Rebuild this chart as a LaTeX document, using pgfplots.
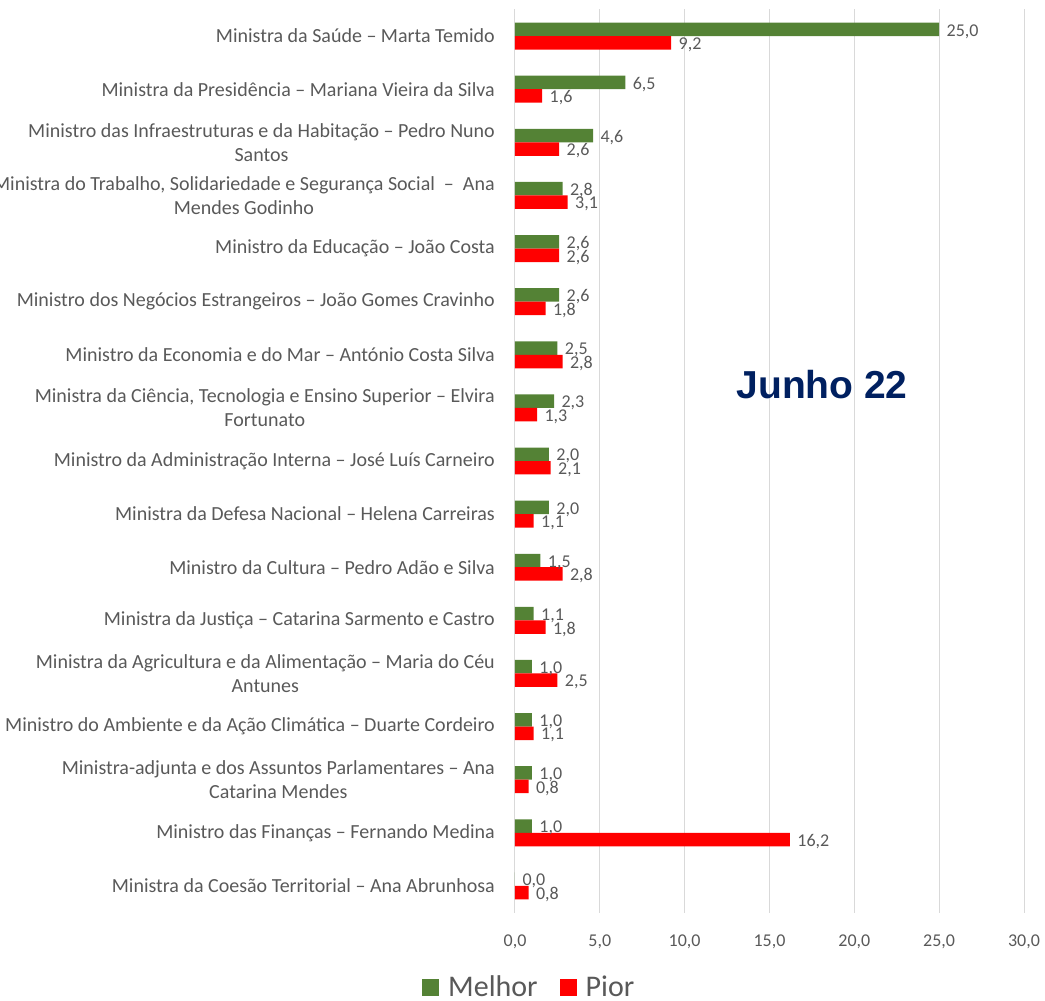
\documentclass[border=0pt]{standalone}
\usepackage{pgfplots}
\pgfplotsset{compat=1.18}
\usepackage{fontspec}
\setmainfont{Carlito}
\newfontfamily\arialfont{Liberation Sans}
\definecolor{mgreen}{HTML}{548235}
\definecolor{mred}{HTML}{FF0000}
\definecolor{txt}{HTML}{595959}
\definecolor{gridgray}{HTML}{D9D9D9}
\definecolor{navy}{HTML}{002060}
\pgfplotstableread{
idx melhor pior
0 25.0 9.2
1 6.5 1.6
2 4.6 2.6
3 2.8 3.1
4 2.6 2.6
5 2.6 1.8
6 2.5 2.8
7 2.3 1.3
8 2.0 2.1
9 2.0 1.1
10 1.5 2.8
11 1.1 1.8
12 1.0 2.5
13 1.0 1.1
14 1.0 0.8
15 1.0 16.2
16 0.0 0.8
}\datatable
\begin{document}
\begin{tikzpicture}
\begin{axis}[
  scale only axis,
  width=509pt, height=903pt,
  xmin=0, xmax=30, ymin=-0.5, ymax=16.5,
  y dir=reverse,
  xbar, bar width=0.254,
  axis line style={draw=none},
  xmajorgrids=true, ymajorgrids=false,
  grid style={draw=gridgray, line width=1pt},
  major tick length=0pt,
  xtick style={draw=none}, ytick style={draw=none},
  xtick={0,5,...,30},
  ytick={0,...,16},
  /pgf/number format/.cd, use comma, fixed, fixed zerofill, precision=1, assume math mode=true,
  /pgfplots/.cd,
  xticklabel style={font=\fontsize{18}{20}\selectfont, text=txt, yshift=-19pt},
  yticklabel style={font=\fontsize{20}{24}\selectfont, text=txt, align=center, inner sep=0pt, xshift=-20pt},
  yticklabels={
    {Ministra da Saúde – Marta Temido},
    {Ministra da Presidência – Mariana Vieira da Silva},
    {Ministro das Infraestruturas e da Habitação – Pedro Nuno\\Santos},
    {Ministra do Trabalho, Solidariedade e Segurança Social \ – \ Ana\\Mendes Godinho},
    {Ministro da Educação – João Costa},
    {Ministro dos Negócios Estrangeiros – João Gomes Cravinho},
    {Ministro da Economia e do Mar – António Costa Silva},
    {Ministra da Ciência, Tecnologia e Ensino Superior – Elvira\\Fortunato},
    {Ministro da Administração Interna – José Luís Carneiro},
    {Ministra da Defesa Nacional – Helena Carreiras},
    {Ministro da Cultura – Pedro Adão e Silva},
    {Ministra da Justiça – Catarina Sarmento e Castro},
    {Ministra da Agricultura e da Alimentação – Maria do Céu\\Antunes},
    {Ministro do Ambiente e da Ação Climática – Duarte Cordeiro},
    {Ministra-adjunta e dos Assuntos Parlamentares – Ana\\Catarina Mendes},
    {Ministro das Finanças – Fernando Medina},
    {Ministra da Coesão Territorial – Ana Abrunhosa}
  },
  nodes near coords,
  point meta=x,
  every node near coord/.append style={anchor=west, font=\fontsize{18}{20}\selectfont, text=txt, xshift=4pt, yshift=-2pt},
  legend columns=2,
  legend style={draw=none, at={(0.028,-0.082)}, anchor=center, font=\fontsize{30}{32}\selectfont, text=txt,
    /tikz/every even column/.append style={column sep=20pt},
    /tikz/every odd column/.append style={column sep=7pt}},
  legend image code/.code={\fill[#1] (0pt,-9pt) rectangle (17pt,8pt);},
]
\addplot[fill=mgreen, draw=none, bar shift=-0.127] table[x=melhor, y=idx] {\datatable};
\addplot[fill=mred, draw=none, bar shift=0.127] table[x=pior, y=idx] {\datatable};
\legend{Melhor, Pior}
\node[font=\arialfont\bfseries\fontsize{39}{40}\selectfont, text=navy] at (axis cs:18.1,6.57) {Junho 22};
\coordinate (A) at (axis cs:0,16.5);
\coordinate (B) at (axis cs:30,-0.5);
\end{axis}
\pgfresetboundingbox
\path[use as bounding box] ([xshift=-515pt,yshift=-87.5pt]A) rectangle ([xshift=21pt,yshift=9.5pt]B);
\end{tikzpicture}
\end{document}
